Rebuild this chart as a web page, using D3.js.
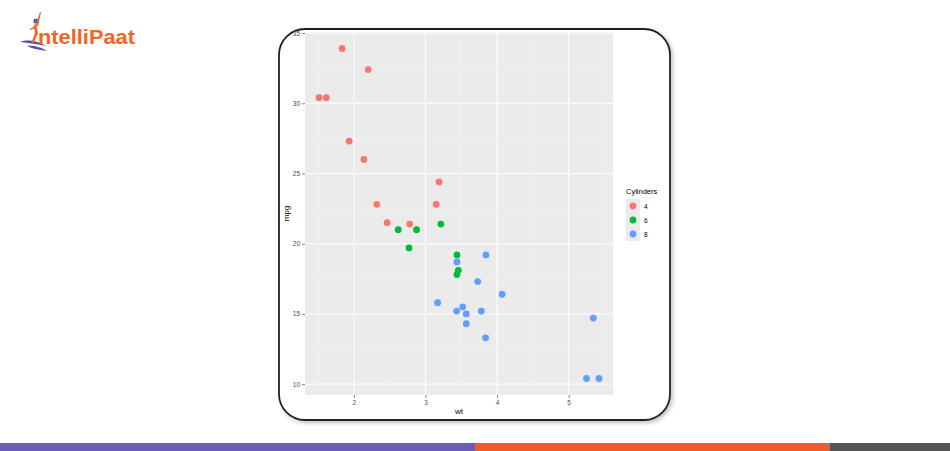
<!DOCTYPE html>
<html><head><meta charset="utf-8">
<script src="https://cdn.jsdelivr.net/npm/d3@7"></script>
<style>body{margin:0;background:#fff;}svg{display:block;font-family:"Liberation Sans",Arial,sans-serif;}</style>
</head><body>
<svg id="c" width="950" height="451"></svg>
<script>
const wt  = [2.620,2.875,2.320,3.215,3.440,3.460,3.570,3.190,3.150,3.440,3.440,4.070,3.730,3.780,5.250,5.424,5.345,2.200,1.615,1.835,2.465,3.520,3.435,3.840,3.845,1.935,2.140,1.513,3.170,2.770,3.570,2.780];
const mpg = [21.0,21.0,22.8,21.4,18.7,18.1,14.3,24.4,22.8,19.2,17.8,16.4,17.3,15.2,10.4,10.4,14.7,32.4,30.4,33.9,21.5,15.5,15.2,13.3,19.2,27.3,26.0,30.4,15.8,19.7,15.0,21.4];
const cyl = [6,6,4,6,8,6,8,4,4,6,6,8,8,8,8,8,8,4,4,4,4,8,8,8,8,4,4,4,8,6,8,4];
const cylLevels = ["4","6","8"];
const cylColors = ["#F8766D","#00BA38","#619CFF"];
const xTicks = [2,3,4,5];
const yTicks = [10,15,20,25,30,35];
const bandColors = ["#6a5cb8","#f15a2b","#555555"];

const svg = d3.select("#c");
const defs = svg.append("defs");
const f = defs.append("filter").attr("id","sh").attr("x","-5%").attr("y","-5%").attr("width","115%").attr("height","115%");
f.append("feDropShadow").attr("dx",2).attr("dy",2).attr("stdDeviation",2).attr("flood-color","#000").attr("flood-opacity",0.25);

// frame
svg.append("rect").attr("x",279).attr("y",29).attr("width",391).attr("height",391).attr("rx",26)
  .attr("fill","#fff").attr("stroke","#222").attr("stroke-width",1.8).attr("filter","url(#sh)");

const P = {l:305,r:613,t:32,b:395};
const ext = (a)=>{const [lo,hi]=d3.extent(a);const e=(hi-lo)*0.05;return [lo-e,hi+e];};
const x = d3.scaleLinear().domain(ext(wt)).range([P.l,P.r]);
const y = d3.scaleLinear().domain(ext(mpg)).range([P.b,P.t]);
const color = d3.scaleOrdinal().domain(cylLevels).range(cylColors);

svg.append("rect").attr("x",P.l).attr("y",P.t).attr("width",P.r-P.l).attr("height",P.b-P.t).attr("fill","#ebebeb");
// minor grid
const xMinor = xTicks.slice(0,-1).map((d,i)=>(d+xTicks[i+1])/2).concat([1.5,5.5]).filter(v=>v>x.domain()[0]&&v<x.domain()[1]);
const yMinor = yTicks.slice(0,-1).map((d,i)=>(d+yTicks[i+1])/2);
const g = svg.append("g");
g.selectAll(".xm").data(xMinor).join("line").attr("x1",d=>x(d)).attr("x2",d=>x(d)).attr("y1",P.t).attr("y2",P.b).attr("stroke","#f5f5f5").attr("stroke-width",0.5);
g.selectAll(".ym").data(yMinor).join("line").attr("y1",d=>y(d)).attr("y2",d=>y(d)).attr("x1",P.l).attr("x2",P.r).attr("stroke","#f5f5f5").attr("stroke-width",0.5);
g.selectAll(".xM").data(xTicks).join("line").attr("x1",d=>x(d)).attr("x2",d=>x(d)).attr("y1",P.t).attr("y2",P.b).attr("stroke","#fff").attr("stroke-width",1);
g.selectAll(".yM").data(yTicks).join("line").attr("y1",d=>y(d)).attr("y2",d=>y(d)).attr("x1",P.l).attr("x2",P.r).attr("stroke","#fff").attr("stroke-width",1);

// axes
const xa = svg.append("g").attr("transform",`translate(0,${P.b})`).call(d3.axisBottom(x).tickValues(xTicks).tickSize(3).tickPadding(2).tickFormat(d3.format("d")));
const ya = svg.append("g").attr("transform",`translate(${P.l},0)`).call(d3.axisLeft(y).tickValues(yTicks).tickSize(3).tickPadding(2).tickFormat(d3.format("d")));
[xa,ya].forEach(a=>{a.select(".domain").remove();a.selectAll(".tick line").attr("stroke","#333").attr("stroke-width",0.6);
  a.selectAll("text").attr("fill","#4d4d4d").attr("font-size",6.5).attr("font-family","Liberation Sans, Arial, sans-serif");});

svg.append("text").attr("x",(P.l+P.r)/2).attr("y",414).attr("text-anchor","middle").attr("font-size",8).attr("fill","#000").text("wt");
svg.append("text").attr("transform",`translate(289,${(P.t+P.b)/2}) rotate(-90)`).attr("text-anchor","middle").attr("font-size",8).attr("fill","#000").text("mpg");

// points
svg.append("g").selectAll("circle").data(d3.range(wt.length)).join("circle")
  .attr("cx",i=>x(wt[i])).attr("cy",i=>y(mpg[i])).attr("r",3.4).attr("fill",i=>color(String(cyl[i])));

// legend
const lg = svg.append("g").attr("transform","translate(625,185)");
lg.append("text").attr("x",1).attr("y",9).attr("font-size",7.5).attr("fill","#000").text("Cylinders");
cylLevels.forEach((c,i)=>{
  const gy = 14+i*14;
  lg.append("rect").attr("x",1).attr("y",gy).attr("width",14).attr("height",14).attr("fill","#ebebeb");
  lg.append("circle").attr("cx",8).attr("cy",gy+7).attr("r",3.4).attr("fill",color(c));
  lg.append("text").attr("x",19).attr("y",gy+9.5).attr("font-size",6.5).attr("fill","#000").text(c);
});

// logo
const logo = svg.append("g");
logo.append("path").attr("d","M20,42 C28,39 38,41 46,46 C40,45 32,43 20,42 Z").attr("fill","#5b4bab");
logo.append("path").attr("d","M27,46 C33,45 41,47 47,51 C40,50 33,49 27,46 Z").attr("fill","#5b4bab");
logo.append("circle").attr("cx",36).attr("cy",21).attr("r",2.6).attr("fill","#3b6cc0");
logo.append("path").attr("d","M36,24 L38,33 L33,44 L31,44 L35,33 L34,25 Z").attr("fill","#f26522");
logo.append("path").attr("d","M36,25 L40,12 L41,12 L38,27 Z").attr("fill","#f26522");
logo.append("path").attr("d","M35,26 L30,29 L30,30 L36,28 Z").attr("fill","#f26522");
logo.append("text").attr("x",38).attr("y",44).attr("font-size",21).attr("font-weight","bold")
  .attr("font-family","Liberation Sans, Arial, sans-serif").attr("fill","#f26522").attr("textLength",97).attr("lengthAdjust","spacingAndGlyphs").text("ntelliPaat");

// bottom band
const bx = d3.scaleLinear().domain([0,1]).range([0,950]);
const stops = [0,0.5,0.873,1];
svg.append("g").selectAll("rect").data(bandColors).join("rect")
  .attr("x",(d,i)=>bx(stops[i])).attr("width",(d,i)=>bx(stops[i+1])-bx(stops[i])).attr("y",443).attr("height",8).attr("fill",d=>d);
</script>
</body></html>
